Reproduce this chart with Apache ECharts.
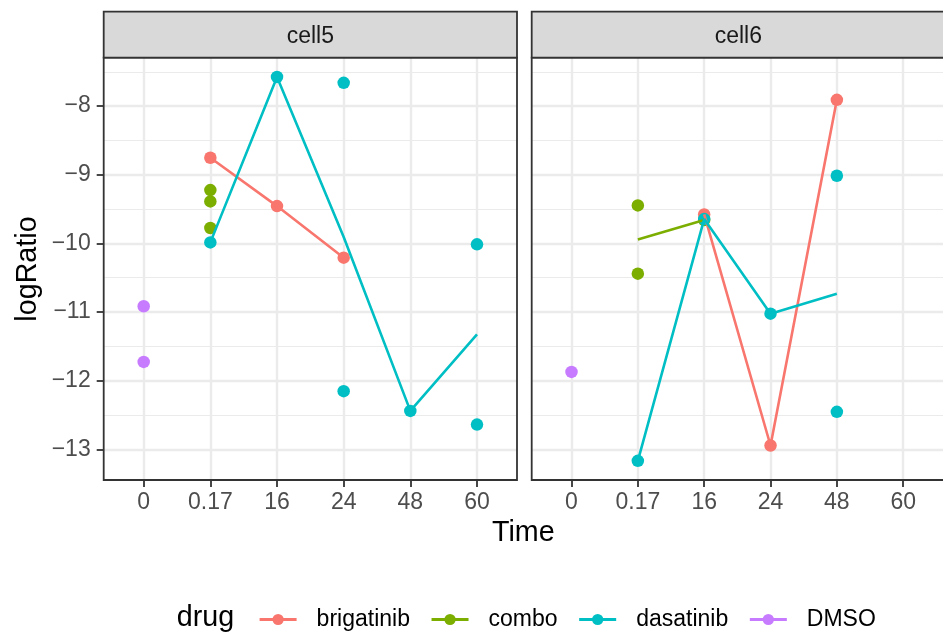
<!DOCTYPE html>
<html><head><meta charset="utf-8">
<script src="https://cdn.jsdelivr.net/npm/echarts@6/dist/echarts.min.js"></script>
<style>html,body{margin:0;padding:0;background:#fff}#c{width:943px;height:636px}</style>
</head><body><div id="c"></div>
<script>
// ---- data ----
const xLabels = ['0', '0.17', '16', '24', '48', '60'];
const yTicks = [-13, -12, -11, -10, -9, -8];
const yMinor = [-13.5, -12.5, -11.5, -10.5, -9.5, -8.5, -7.5];
const panels = ['cell5', 'cell6'];
const drugs = ['brigatinib', 'combo', 'dasatinib', 'DMSO'];
const drugColors = ['#F8766D', '#7CAE00', '#00BFC4', '#C77CFF'];

const cell5_brigatinib = [['0.17', -8.752], ['16', -9.456], ['24', -10.208]];
const cell5_combo = [['0.17', -9.223], ['0.17', -9.388], ['0.17', -9.776]];
const cell5_dasatinib = [['0.17', -9.985], ['16', -7.574], ['24', -7.661], ['24', -12.153], ['48', -12.44], ['60', -10.013], ['60', -12.639]];
const cell5_DMSO = [['0', -10.916], ['0', -11.726]];

const cell6_brigatinib = [['16', -9.577], ['24', -12.944], ['48', -7.908]];
const cell6_combo = [['0.17', -9.446], ['0.17', -10.441], ['16', -9.66]];
const cell6_dasatinib = [['0.17', -13.167], ['16', -9.645], ['24', -11.023], ['48', -9.014], ['48', -12.454]];
const cell6_DMSO = [['0', -11.872]];

const panelData = [
  [cell5_brigatinib, cell5_combo, cell5_dasatinib, cell5_DMSO],
  [cell6_brigatinib, cell6_combo, cell6_dasatinib, cell6_DMSO]
];

// ---- layout ----
const FONT = '"Liberation Sans", Arial, Helvetica, sans-serif';
const gridBoxes = [
  {left: 103.7, top: 57.7, width: 413.3, height: 422.3},
  {left: 531.7, top: 57.7, width: 413.3, height: 422.3}
];
const stripTop = 11.7;

// y range with ggplot-like 5% expansion
let allV = [];
panelData.forEach(p => p.forEach(s => s.forEach(d => allV.push(d[1]))));
const vMin = Math.min(...allV), vMax = Math.max(...allV);
const pad = (vMax - vMin) * 0.05;
const yMin = vMin - pad, yMax = vMax + pad;

function toPts(arr) { return arr.map(d => [xLabels.indexOf(d[0]), d[1]]); }
function means(arr) {
  const m = {};
  arr.forEach(d => { const k = xLabels.indexOf(d[0]); (m[k] = m[k] || []).push(d[1]); });
  return Object.keys(m).map(Number).sort((a, b) => a - b)
    .map(k => [k, m[k].reduce((a, b) => a + b, 0) / m[k].length]);
}

const grids = [], xAxes = [], yAxes = [], lineSeries = [], pointSeries = [], graphics = [];
gridBoxes.forEach((g, i) => {
  grids.push({left: g.left, top: g.top, width: g.width, height: g.height, show: false, containLabel: false});
  xAxes.push({
    gridIndex: i, type: 'value', min: -0.6, max: 5.6,
    axisLine: {show: false, onZero: false},
    axisTick: {show: true, customValues: [0, 1, 2, 3, 4, 5], length: 7, lineStyle: {color: '#333333', width: 1.8}},
    axisLabel: {customValues: [0, 1, 2, 3, 4, 5], formatter: v => xLabels[Math.round(v)], color: '#4d4d4d', fontSize: 23, fontFamily: FONT, margin: 11},
    splitLine: {show: true, lineStyle: {color: '#ebebeb', width: 2.4}}
  });
  yAxes.push({
    gridIndex: i, type: 'value', min: yMin, max: yMax, position: 'left',
    axisLine: {show: false, onZero: false},
    axisTick: {show: i === 0, customValues: yTicks, length: 7, lineStyle: {color: '#333333', width: 1.8}},
    axisLabel: {show: i === 0, customValues: yTicks, formatter: v => String(v).replace('-', '\u2212'), color: '#4d4d4d', fontSize: 23, fontFamily: FONT, margin: 13},
    splitLine: {show: true, lineStyle: {color: '#ebebeb', width: 2.4}}
  });
  yAxes.push({
    gridIndex: i, type: 'value', min: yMin, max: yMax, position: 'left',
    axisLine: {show: false, onZero: false},
    axisTick: {show: false, customValues: yMinor},
    axisLabel: {show: false, customValues: yMinor},
    splitLine: {show: true, lineStyle: {color: '#ebebeb', width: 1.2}}
  });
  panelData[i].forEach((arr, d) => {
    lineSeries.push({
      name: drugs[d], type: 'line', xAxisIndex: i, yAxisIndex: 2 * i,
      data: means(arr), symbol: 'circle', symbolSize: 12, showSymbol: false,
      lineStyle: {color: drugColors[d], width: 2.6}, itemStyle: {color: drugColors[d]},
      z: 3, silent: true, animation: false, emphasis: {disabled: true}
    });
    pointSeries.push({
      name: drugs[d], type: 'scatter', xAxisIndex: i, yAxisIndex: 2 * i,
      data: toPts(arr), symbol: 'circle', symbolSize: 12.5,
      itemStyle: {color: drugColors[d], opacity: 1},
      z: 2, silent: true, animation: false, emphasis: {disabled: true}
    });
  });
  // panel border
  graphics.push({type: 'rect', z: 100, silent: true,
    shape: {x: g.left, y: g.top, width: g.width, height: g.height},
    style: {fill: null, stroke: '#333333', lineWidth: 1.8}});
  // strip
  graphics.push({type: 'rect', z: 100, silent: true,
    shape: {x: g.left, y: stripTop, width: g.width, height: g.top - stripTop},
    style: {fill: '#d9d9d9', stroke: '#333333', lineWidth: 1.8}});
  graphics.push({type: 'text', z: 101, silent: true, x: g.left + g.width / 2, y: 36.3,
    style: {text: panels[i], fill: '#1a1a1a', font: '23px ' + FONT, align: 'center', verticalAlign: 'middle'}});
});

graphics.push({type: 'text', z: 101, silent: true, x: 523.3, y: 533,
  style: {text: 'Time', fill: '#000', font: '28.7px ' + FONT, align: 'center', verticalAlign: 'middle'}});
graphics.push({type: 'text', z: 101, silent: true, x: 28, y: 269, rotation: Math.PI / 2,
  style: {text: 'logRatio', fill: '#000', font: '28.7px ' + FONT, align: 'center', verticalAlign: 'middle'}});
graphics.push({type: 'text', z: 101, silent: true, x: 176.7, y: 618,
  style: {text: 'drug', fill: '#000', font: '28.7px ' + FONT, align: 'left', verticalAlign: 'middle'}});

const chart = echarts.init(document.getElementById('c'), null, {renderer: 'canvas'});
chart.setOption({
  animation: false,
  backgroundColor: '#ffffff',
  grid: grids, xAxis: xAxes, yAxis: yAxes,
  series: lineSeries.concat(pointSeries),
  legend: {
    data: drugs, left: 253, top: 603, orient: 'horizontal',
    itemWidth: 37, itemHeight: 14, itemGap: 20, selectedMode: false,
    lineStyle: {width: 3.2},
    textStyle: {fontSize: 23, color: '#000', fontFamily: FONT, padding: [0, 0, 0, 15]}
  },
  graphic: graphics
});
</script></body></html>
